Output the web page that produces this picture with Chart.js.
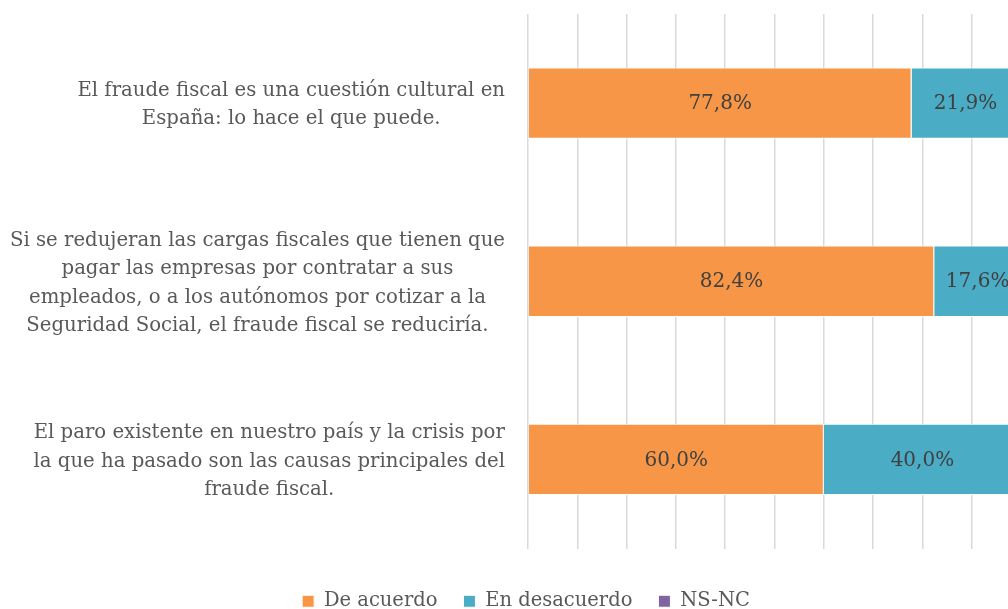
<!DOCTYPE html>
<html>
<head>
<meta charset="utf-8">
<script src="https://cdn.jsdelivr.net/npm/chart.js@4/dist/chart.umd.min.js"></script>
<style>
  html, body { margin: 0; padding: 0; background: #fff; overflow: hidden; }
  #wrap { width: 1052px; height: 609px; }
</style>
</head>
<body>
<div id="wrap"><canvas id="myChart" width="1052" height="609"></canvas></div>
<script>
// categories, one line per entry, as in the original
const categorias = [
  ["El fraude fiscal es una cuestión cultural en", "España: lo hace el que puede."],
  ["Si se redujeran las cargas fiscales que tienen que", "pagar las empresas por contratar a sus", "empleados, o a los autónomos por cotizar a la", "Seguridad Social, el fraude fiscal se reduciría."],
  ["El paro existente en nuestro país y la crisis por", "la que ha pasado son las causas principales del", "fraude fiscal."]
];
const deAcuerdo = [77.8, 82.4, 60.0];
const enDesacuerdo = [21.9, 17.6, 40.0];
const nsNc = [0.3, 0, 0];

const fuente = "'DejaVu Serif', 'Liberation Serif', serif";

// labels on the left: each block right aligned, lines centered inside the block
const etiquetasY = {
  id: "etiquetasY",
  afterDraw(chart) {
    const ctx = chart.ctx;
    const y = chart.scales.y;
    const right = chart.chartArea.left - 23;
    ctx.save();
    ctx.font = "19.7px " + fuente;
    ctx.fillStyle = "#595959";
    ctx.textAlign = "center";
    ctx.textBaseline = "middle";
    categorias.forEach((lineas, i) => {
      let w = 0;
      lineas.forEach(l => { w = Math.max(w, ctx.measureText(l).width); });
      const cx = right - w / 2;
      const cy = y.getPixelForValue(i);
      const lh = 28.5;
      lineas.forEach((l, j) => {
        ctx.fillText(l, cx, cy + (j - (lineas.length - 1) / 2) * lh + 2);
      });
    });
    ctx.restore();
  }
};

// value labels inside the bars
const valores = {
  id: "valores",
  afterDatasetsDraw(chart) {
    const ctx = chart.ctx;
    ctx.save();
    ctx.font = "20px " + fuente;
    ctx.fillStyle = "#404040";
    ctx.textAlign = "center";
    ctx.textBaseline = "middle";
    chart.data.datasets.forEach((ds, di) => {
      chart.getDatasetMeta(di).data.forEach((bar, i) => {
        const v = ds.data[i];
        if (v < 1) return;
        ctx.fillText(v.toFixed(1).replace(".", ",") + "%", (bar.x + bar.base) / 2, bar.y + 1);
      });
    });
    ctx.restore();
  }
};

new Chart(document.getElementById("myChart"), {
  type: "bar",
  data: {
    labels: categorias.map(c => c.join(" ")),
    datasets: [
      { label: "De acuerdo", data: deAcuerdo, backgroundColor: "#F79646", borderColor: "#fff", borderWidth: 1 },
      { label: "En desacuerdo", data: enDesacuerdo, backgroundColor: "#4BACC6", borderColor: "#fff", borderWidth: 1 },
      { label: "NS-NC", data: nsNc, backgroundColor: "#8064A2", borderColor: "#fff", borderWidth: 1 }
    ]
  },
  options: {
    indexAxis: "y",
    responsive: false,
    animation: false,
    layout: { padding: { left: 31, right: 31, top: 14, bottom: -12 } },
    categoryPercentage: 1,
    barPercentage: 0.4,
    scales: {
      x: {
        stacked: true,
        min: 0,
        max: 100,
        ticks: { display: false, stepSize: 10 },
        grid: { color: "#d9d9d9", lineWidth: 1.5, drawTicks: false },
        border: { display: false },
        afterFit(scale) { scale.height = 17; }
      },
      y: {
        stacked: true,
        ticks: { display: false },
        grid: { display: false, drawTicks: false },
        border: { display: false },
        afterFit(scale) { scale.width = 497; }
      }
    },
    plugins: {
      tooltip: { enabled: false },
      legend: {
        position: "bottom",
        labels: {
          font: { family: fuente, size: 19.5 },
          color: "#595959",
          boxWidth: 12,
          boxHeight: 12,
          padding: 26
        }
      }
    }
  },
  plugins: [etiquetasY, valores]
});
</script>
</body>
</html>
